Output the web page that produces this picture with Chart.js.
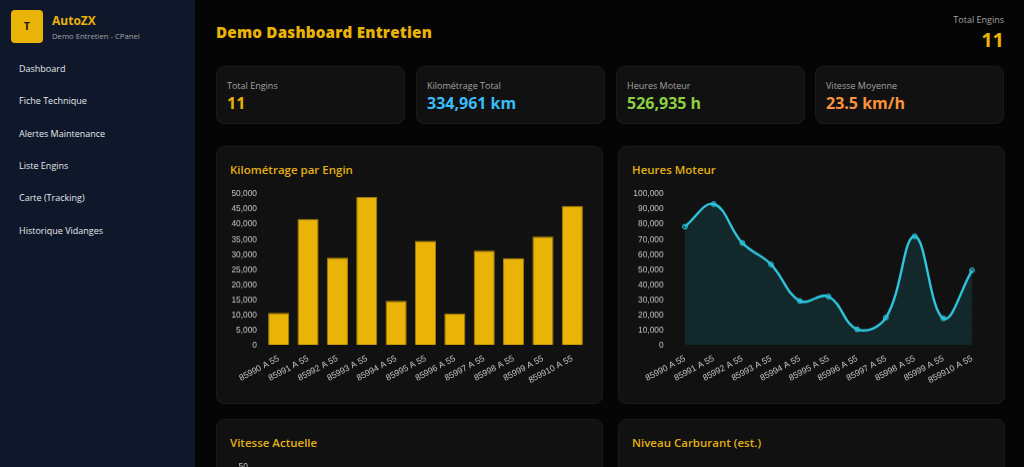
<!DOCTYPE html>
<html lang="fr">
<head>
<meta charset="utf-8">
<title>Demo Dashboard Entretien</title>
<script src="https://cdn.jsdelivr.net/npm/chart.js@4"></script>
<style>
* { box-sizing: border-box; margin: 0; padding: 0; }
html, body { width: 1024px; height: 467px; overflow: hidden; background: #050505; font-family: "Open Sans", sans-serif; }
.sidebar { position: absolute; left: 0; top: 0; width: 195px; height: 467px; background: #0f172a; }
.logo { position: absolute; left: 11px; top: 10px; width: 32px; height: 33px; border-radius: 4px; background: #eab308; color: #111; font: 700 10px "Open Sans", sans-serif; line-height: 33px; text-align: center; }
.brand { position: absolute; left: 52px; top: 13px; color: #eab308; font-weight: 700; font-size: 12px; line-height: 16px; }
.sub { position: absolute; left: 52px; top: 30px; color: #a3a3a3; font-size: 7.7px; line-height: 12px; }
.nav { position: absolute; left: 19px; color: #e5e7eb; font-size: 9px; line-height: 14px; }
.head { position: absolute; left: 216px; top: 21px; color: #eab308; font-weight: 800; font-size: 15.2px; line-height: 22px; letter-spacing: .2px; }
.total { position: absolute; right: 20px; top: 13px; text-align: right; color: #a3a3a3; font-size: 9px; line-height: 13px; }
.total b { display: block; color: #eab308; font-size: 20px; line-height: 25px; margin-top: 1px; }
.card { position: absolute; background: #111111; border: 1px solid #1a1a1a; border-radius: 8px; }
.stat { top: 66px; height: 58px; width: 189px; }
.stat span { position: absolute; left: 10px; top: 12px; color: #a3a3a3; font-size: 9px; line-height: 13px; white-space: nowrap; }
.stat b { position: absolute; left: 10px; top: 25px; font-size: 16px; line-height: 22px; white-space: nowrap; }
.panel { width: 387px; height: 258px; }
.panel h3 { position: absolute; left: 13px; top: 14px; color: #e3b012; font-weight: 600; font-size: 11.5px; line-height: 17px; }
.plot { position: absolute; left: 13px; top: 42.2px; width: 360px; height: 198.6px; }
</style>
</head>
<body>
<div class="sidebar">
  <div class="logo">T</div>
  <div class="brand">AutoZX</div>
  <div class="sub">Demo Entretien - CPanel</div>
  <div class="nav" style="top:62px">Dashboard</div>
  <div class="nav" style="top:94px">Fiche Technique</div>
  <div class="nav" style="top:127px">Alertes Maintenance</div>
  <div class="nav" style="top:159px">Liste Engins</div>
  <div class="nav" style="top:191px">Carte (Tracking)</div>
  <div class="nav" style="top:224px">Historique Vidanges</div>
</div>
<div class="head">Demo Dashboard Entretien</div>
<div class="total">Total Engins<b>11</b></div>

<div class="card stat" style="left:216px"><span>Total Engins</span><b style="color:#eab308">11</b></div>
<div class="card stat" style="left:416px"><span>Kilométrage Total</span><b style="color:#38bdf8">334,961 km</b></div>
<div class="card stat" style="left:616px"><span>Heures Moteur</span><b style="color:#8ed044">526,935 h</b></div>
<div class="card stat" style="left:815px"><span>Vitesse Moyenne</span><b style="color:#fb923c">23.5 km/h</b></div>

<div class="card panel" style="left:216px;top:146px"><h3>Kilométrage par Engin</h3><div class="plot"><canvas id="kmChart"></canvas></div></div>
<div class="card panel" style="left:618px;top:146px"><h3>Heures Moteur</h3><div class="plot"><canvas id="hoursChart"></canvas></div></div>
<div class="card panel" style="left:216px;top:419px"><h3>Vitesse Actuelle</h3><div class="plot"><canvas id="speedChart"></canvas></div></div>
<div class="card panel" style="left:618px;top:419px"><h3>Niveau Carburant (est.)</h3></div>

<script>
const engins = ['85990 A 55', '85991 A 55', '85992 A 55', '85993 A 55', '85994 A 55', '85995 A 55', '85996 A 55', '85997 A 55', '85998 A 55', '85999 A 55', '859910 A 55'];
const kilometrage = [10730, 41800, 29000, 49000, 14700, 34600, 10600, 31300, 28760, 36000, 46100];
const heuresMoteur = [78500, 93400, 67700, 53500, 29400, 32300, 10600, 18400, 72100, 17900, 49600];
const vitesseMax = 50;

const tickFamily = '"Liberation Sans", Arial, sans-serif';

// Same axes on every chart, only the y range and the margins change
function baseOptions(yMax, yStep, yWidth, padRight) {
    return {
        responsive: true,
        maintainAspectRatio: false,
        animation: false,
        locale: 'en-US',
        layout: { padding: { right: padRight, bottom: 3 } },
        plugins: { legend: { display: false }, tooltip: { enabled: false } },
        scales: {
            x: {
                offset: true,
                grid: { color: 'rgba(255,255,255,0.012)' },
                ticks: { color: '#c4c4c4', font: { family: tickFamily, size: 8.6 }, autoSkip: false, minRotation: 28, maxRotation: 28, padding: 0 }
            },
            y: {
                beginAtZero: true,
                max: yMax,
                afterFit(scale) { scale.width = yWidth; },
                grid: { color: 'rgba(255,255,255,0.012)', tickLength: 7 },
                ticks: { color: '#c4c4c4', font: { family: tickFamily, size: 8.4 }, stepSize: yStep, padding: 0 }
            }
        }
    };
}

new Chart(document.getElementById('kmChart'), {
    type: 'bar',
    data: {
        labels: engins,
        datasets: [{ data: kilometrage, backgroundColor: '#eab308', borderColor: '#a67f08', borderWidth: 1 }]
    },
    options: baseOptions(50000, 5000, 34, 3)
});

new Chart(document.getElementById('hoursChart'), {
    type: 'line',
    data: {
        labels: engins,
        datasets: [{
            data: heuresMoteur,
            borderColor: '#2fc6de',
            borderWidth: 2.4,
            tension: 0.4,
            fill: true,
            backgroundColor: 'rgba(34,211,238,0.12)',
            pointRadius: 2.4,
            pointBackgroundColor: 'rgba(34,211,238,0.3)',
            pointBorderColor: '#2fc6de',
            pointBorderWidth: 1
        }]
    },
    options: baseOptions(100000, 10000, 38.6, 5.6)
});

new Chart(document.getElementById('speedChart'), {
    type: 'bar',
    data: { labels: engins, datasets: [{ data: [] }] },
    options: baseOptions(vitesseMax, 10, 24, 3)
});
</script>
</body>
</html>
